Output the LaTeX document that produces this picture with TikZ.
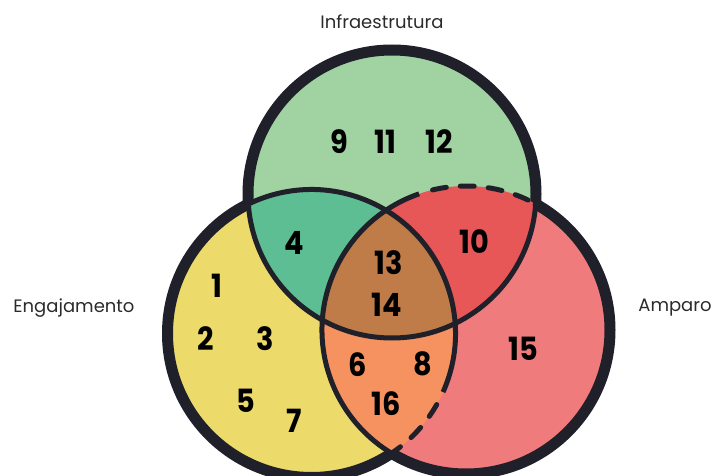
\documentclass[tikz,border=0pt]{standalone}
\usepackage{fontspec}
\setmainfont{Poppins}
\newfontfamily\numfont{Poppins}[FakeStretch=0.9]
\definecolor{ink}{HTML}{1F2029}
\definecolor{labelgray}{HTML}{2B2B2B}
\definecolor{topfill}{HTML}{A0D3A1}
\definecolor{leftfill}{HTML}{ECDB6A}
\definecolor{rightfill}{HTML}{F07B7C}
\definecolor{tlfill}{HTML}{5DBE93}
\definecolor{trfill}{HTML}{E85757}
\definecolor{lrfill}{HTML}{F59260}
\definecolor{allfill}{HTML}{BF7C48}
\begin{document}
\begin{tikzpicture}[x=1pt,y=1pt,
  num/.style={font=\numfont\fontsize{32}{32}\selectfont\bfseries, text=black, inner sep=0pt},
  lbl/.style={font=\fontsize{18}{18}\selectfont, text=labelgray, inner sep=0pt},
  innerarc/.style={line width=5pt, draw=ink},
  dashedarc/.style={innerarc, line cap=round, dash pattern=on 14pt off 14pt, dash phase=14pt},
  border/.style={line width=11pt, draw=ink}]
\useasboundingbox (0,0) rectangle (713,-476);
\def\rad{144}
\coordinate (T) at (392,-194);
\coordinate (L) at (311.5,-333.5);
\coordinate (R) at (466,-330);

% single-set fills
\fill[leftfill]  (L) circle[radius=\rad];
\fill[rightfill] (R) circle[radius=\rad];
\fill[topfill]   (T) circle[radius=\rad];
% pairwise overlaps
\begin{scope}
  \clip (L) circle[radius=\rad];
  \fill[lrfill] (R) circle[radius=\rad];
\end{scope}
\begin{scope}
  \clip (T) circle[radius=\rad];
  \fill[tlfill] (L) circle[radius=\rad];
  \fill[trfill] (R) circle[radius=\rad];
\end{scope}
% triple overlap
\begin{scope}
  \clip (T) circle[radius=\rad];
  \clip (L) circle[radius=\rad];
  \fill[allfill] (R) circle[radius=\rad];
\end{scope}

% inner arcs
\draw[innerarc] (T) circle[radius=\rad];
\draw[innerarc] (L) ++(-24:\rad) arc[start angle=-24, end angle=300, radius=\rad];
\draw[dashedarc] (L) ++(-24:\rad) arc[start angle=-24, end angle=-57, radius=\rad];
\draw[innerarc] (R) ++(109:\rad) arc[start angle=109, end angle=422, radius=\rad];
\draw[dashedarc] (R) ++(109:\rad) arc[start angle=109, end angle=60, radius=\rad];

% outer borders, each kept outside the other two circles
\begin{scope}[even odd rule]
  \clip (-20,20) rectangle (740,-500) (L) circle[radius=\rad];
  \clip (-20,20) rectangle (740,-500) (R) circle[radius=\rad];
  \draw[border] (T) circle[radius=\rad];
\end{scope}
\begin{scope}[even odd rule]
  \clip (-20,20) rectangle (740,-500) (T) circle[radius=\rad];
  \clip (-20,20) rectangle (740,-500) (R) circle[radius=\rad];
  \draw[border] (L) circle[radius=\rad];
\end{scope}
\begin{scope}[even odd rule]
  \clip (-20,20) rectangle (740,-500) (T) circle[radius=\rad];
  \clip (-20,20) rectangle (740,-500) (L) circle[radius=\rad];
  \draw[border] (R) circle[radius=\rad];
\end{scope}

% set labels
\node[lbl] (infra) at (382,-22) {Infraestrutura};
\node[lbl] (engaj) at (74,-308) {Engajamento};
\node[lbl] (ampar) at (675,-308) {Amparo};

% item numbers
\node[num] (n9)  at (339,-142) {9};
\node[num] (n11) at (385,-142) {11};
\node[num] (n12) at (439,-142) {12};
\node[num] (n4)  at (294,-243) {4};
\node[num] (n10) at (474,-242) {10};
\node[num] (n13) at (389,-263) {13};
\node[num] (n14) at (387,-305) {14};
\node[num] (n1)  at (217,-286) {1};
\node[num] (n2)  at (206,-339) {2};
\node[num] (n3)  at (265,-339) {3};
\node[num] (n5)  at (246,-401) {5};
\node[num] (n7)  at (294,-421) {7};
\node[num] (n6)  at (358,-365) {6};
\node[num] (n8)  at (423,-364) {8};
\node[num] (n16) at (386,-404) {16};
\node[num] (n15) at (523,-349) {15};
\end{tikzpicture}
\end{document}
